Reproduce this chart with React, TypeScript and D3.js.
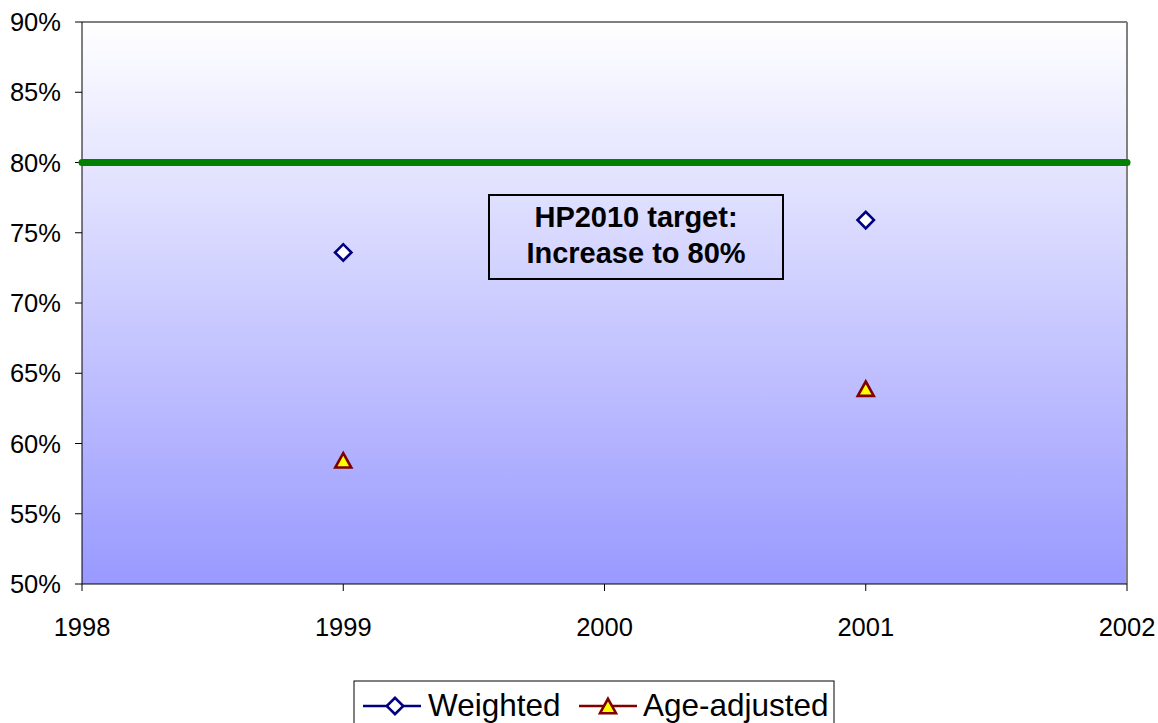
import React from "react";
import * as d3 from "d3";

const years = [1999, 2001];
const weighted = [73.6, 75.9];
const ageAdjusted = [58.8, 63.9];
const target = 80;
const xTicks = [1998, 1999, 2000, 2001, 2002];
const yTicks = [50, 55, 60, 65, 70, 75, 80, 85, 90];

// triangle centered on its bounding box
const triPath = (s: number) => {
  const h = s * 0.9;
  const p = d3.path();
  p.moveTo(0, -h / 2);
  p.lineTo(s / 2, h / 2);
  p.lineTo(-s / 2, h / 2);
  p.closePath();
  return p.toString();
};

export default function App() {
  const W = 1158, H = 723;
  const L = 82, R = 1127, T = 22, B = 584;
  const x = d3.scaleLinear().domain([1998, 2002]).range([L, R]);
  const y = d3.scaleLinear().domain([50, 90]).range([B, T]);
  const font = "Arial, 'Liberation Sans', sans-serif";
  const tri = triPath(16);
  const diamond = (cx: number, cy: number, key: string) => (
    <rect key={key} x={-5.8} y={-5.8} width={11.6} height={11.6} fill="#fff" stroke="#000080" strokeWidth={2.6}
      transform={`translate(${cx},${cy}) rotate(45)`} />
  );
  return (
    <svg width={W} height={H} style={{ position: "absolute", left: 0, top: 0 }} fontFamily={font}>
      <defs>
        <linearGradient id="bg" x1="0" y1="0" x2="0" y2="1">
          <stop offset="0" stopColor="#ffffff" />
          <stop offset="1" stopColor="#9999ff" />
        </linearGradient>
      </defs>
      <rect x={0} y={0} width={W} height={H} fill="#fff" />
      <rect x={L} y={T} width={R - L} height={B - T} fill="url(#bg)" />
      <line x1={L} x2={R} y1={T} y2={T} stroke="#808080" strokeWidth={2} />
      <line x1={R} x2={R} y1={T} y2={B} stroke="#808080" strokeWidth={2} />
      <line x1={L} x2={L} y1={T} y2={B} stroke="#000" strokeWidth={1} />
      <line x1={L} x2={R} y1={B} y2={B} stroke="#000" strokeWidth={1} />
      {yTicks.map((t) => (
        <g key={t}>
          <line x1={L - 7} x2={L} y1={y(t)} y2={y(t)} stroke="#000" />
          <text x={61} y={y(t)} dy="0.36em" textAnchor="end" fontSize={25.5}>{t}%</text>
        </g>
      ))}
      {xTicks.map((t) => (
        <g key={t}>
          <line x1={x(t)} x2={x(t)} y1={B} y2={B + 7} stroke="#000" />
          <text x={x(t)} y={B + 52} textAnchor="middle" fontSize={25.5}>{t}</text>
        </g>
      ))}
      <line x1={x(1998)} x2={x(2002)} y1={y(target)} y2={y(target)} stroke="#008000" strokeWidth={7} strokeLinecap="round" />
      <rect x={489} y={195} width={294} height={84} fill="none" stroke="#000" strokeWidth={2} />
      <text x={636} y={227} textAnchor="middle" fontSize={29} fontWeight="bold">HP2010 target:</text>
      <text x={636} y={263} textAnchor="middle" fontSize={29} fontWeight="bold">Increase to 80%</text>
      {years.map((yr, i) => diamond(x(yr), y(weighted[i]), "w" + i))}
      {years.map((yr, i) => (
        <path key={"a" + i} d={tri} fill="#ffff00" stroke="#800000" strokeWidth={2.6}
          transform={`translate(${x(yr)},${y(ageAdjusted[i])})`} />
      ))}
      <rect x={354} y={681} width={480} height={46} fill="#fff" stroke="#000" strokeWidth={1} />
      <line x1={363} x2={421} y1={706} y2={706} stroke="#000080" strokeWidth={2.4} />
      {diamond(395, 706, "lw")}
      <text x={428} y={716} fontSize={31.5}>Weighted</text>
      <line x1={579} x2={637} y1={706} y2={706} stroke="#800000" strokeWidth={2.4} />
      <path d={tri} fill="#ffff00" stroke="#800000" strokeWidth={2.6} transform="translate(608,706)" />
      <text x={643} y={716} fontSize={31.5}>Age-adjusted</text>
    </svg>
  );
}
